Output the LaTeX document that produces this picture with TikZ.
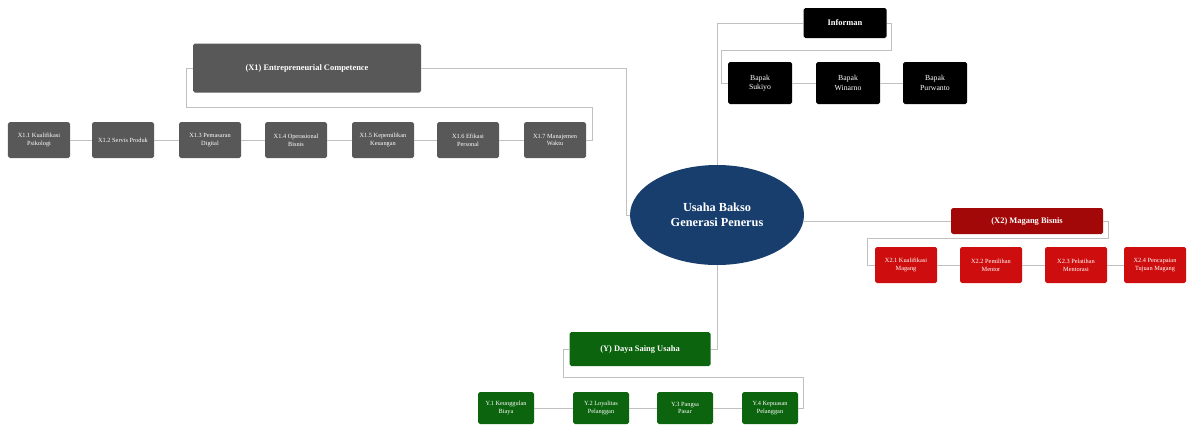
\documentclass[tikz,border=0pt]{standalone}
\usepackage{fontspec}
\setmainfont{Liberation Serif}
\usetikzlibrary{shapes,arrows,positioning,calc}
\definecolor{hubblue}{RGB}{24,62,110}
\definecolor{kgray}{RGB}{88,88,88}
\definecolor{kred}{RGB}{206,14,14}
\definecolor{kdarkred}{RGB}{162,8,8}
\definecolor{kgreen}{RGB}{12,100,14}
\definecolor{linkgray}{RGB}{192,192,192}
\tikzset{
    hub/.style={ellipse, fill=hubblue, text=white, minimum width=3.48cm, minimum height=2cm, align=center, font=\fontsize{7}{8.6}\selectfont\bfseries},
    head/.style={rectangle, rounded corners=1pt, text=white, align=center, inner sep=1pt, font=\fontsize{4.8}{5.8}\selectfont\bfseries},
    leaf/.style={rectangle, rounded corners=1pt, text=white, align=center, inner sep=1pt, font=\fontsize{3.6}{4.4}\selectfont},
    grayhead/.style={head, fill=kgray, minimum width=4.56cm, minimum height=0.98cm},
    grayleaf/.style={leaf, fill=kgray, minimum width=1.24cm, minimum height=0.72cm},
    redhead/.style={head, fill=kdarkred, minimum width=3.04cm, minimum height=0.52cm},
    redleaf/.style={leaf, fill=kred, minimum width=1.24cm, minimum height=0.72cm},
    greenhead/.style={head, fill=kgreen, minimum width=2.82cm, minimum height=0.68cm},
    greenleaf/.style={leaf, fill=kgreen, minimum width=1.12cm, minimum height=0.64cm},
    blackhead/.style={head, fill=black, minimum width=1.66cm, minimum height=0.6cm},
    blackleaf/.style={leaf, fill=black, minimum width=1.28cm, minimum height=0.84cm, font=\fontsize{4.4}{5.4}\selectfont},
    link/.style={draw=linkgray, line width=0.5pt}
}
\begin{document}
\begin{tikzpicture}
    \useasboundingbox (0,0) rectangle (23.74,-8.54);

    \node [hub] (main) at (14.34,-4.30) {Usaha Bakso\\Generasi Penerus};

    \node [blackhead] (inf) at (16.90,-0.46) {Informan};
    \node [blackleaf] (suk) at (15.20,-1.66) {Bapak\\Sukiyo};
    \node [blackleaf, right of=suk, node distance=1.76cm] (win) {Bapak\\Winarno};
    \node [blackleaf, right of=win, node distance=1.74cm] (pur) {Bapak\\Purwanto};

    \node [grayhead] (comp) at (6.14,-1.36) {(X1) Entrepreneurial Competence};
    \node [grayleaf] (c1) at (0.78,-2.80) {X1.1 Kualifikasi\\Psikologi};
    \node [grayleaf, right of=c1, node distance=1.68cm] (c2) {X1.2 Servis Produk};
    \node [grayleaf, right of=c2, node distance=1.74cm] (c3) {X1.3 Pemasaran\\Digital};
    \node [grayleaf, right of=c3, node distance=1.72cm] (c4) {X1.4 Operasional\\Bisnis};
    \node [grayleaf, right of=c4, node distance=1.74cm] (c5) {X1.5 Kepemilikan\\Keuangan};
    \node [grayleaf, right of=c5, node distance=1.70cm] (c6) {X1.6 Efikasi\\Personal};
    \node [grayleaf, right of=c6, node distance=1.74cm] (c7) {X1.7 Manajemen\\Waktu};

    \node [redhead] (mag) at (20.54,-4.42) {(X2) Magang Bisnis};
    \node [redleaf] (m1) at (18.12,-5.30) {X2.1 Kualifikasi\\Magang};
    \node [redleaf, right of=m1, node distance=1.70cm] (m2) {X2.2 Pemilihan\\Mentor};
    \node [redleaf, right of=m2, node distance=1.70cm] (m3) {X2.3 Pelatihan\\Mentorasi};
    \node [redleaf, right of=m3, node distance=1.58cm] (m4) {X2.4 Pencapaian\\Tujuan Magang};

    \node [greenhead] (saing) at (12.80,-6.98) {(Y) Daya Saing Usaha};
    \node [greenleaf] (y1) at (10.12,-8.16) {Y.1 Keunggulan\\Biaya};
    \node [greenleaf, right of=y1, node distance=1.90cm] (y2) {Y.2 Loyalitas\\Pelanggan};
    \node [greenleaf, right of=y2, node distance=1.68cm] (y3) {Y.3 Pangsa\\Pasar};
    \node [greenleaf, right of=y3, node distance=1.70cm] (y4) {Y.4 Kepuasan\\Pelanggan};

    \path [link] (main.north) |- (inf.west);
    \path [link] (inf.east) -| ++(0.1,-0.54) -| ([xshift=-0.12cm]suk.west) -- (suk.west);
    \path [link] (suk) -- (win) -- (pur);

    \path [link] (main.west) -- ++(-0.06,0) |- (comp.east);
    \path [link] (comp.west) -| ++(-0.12,-0.78) -| ([xshift=0.12cm]c7.east) -- (c7.east);
    \path [link] (c1) -- (c2) -- (c3) -- (c4) -- (c5) -- (c6) -- (c7);

    \path [link] (mag.west) -- (main.east |- mag.west);
    \path [link] (mag.east) -| ++(0.1,-0.34) -| ([xshift=-0.14cm]m1.west) -- (m1.west);
    \path [link] (m1) -- (m2) -- (m3) -- (m4);

    \path [link] (main.south) |- (saing.east);
    \path [link] (saing.west) -| ++(-0.12,-0.56) -| ([xshift=0.1cm]y4.east) -- (y4.east);
    \path [link] (y1) -- (y2) -- (y3) -- (y4);
\end{tikzpicture}
\end{document}
